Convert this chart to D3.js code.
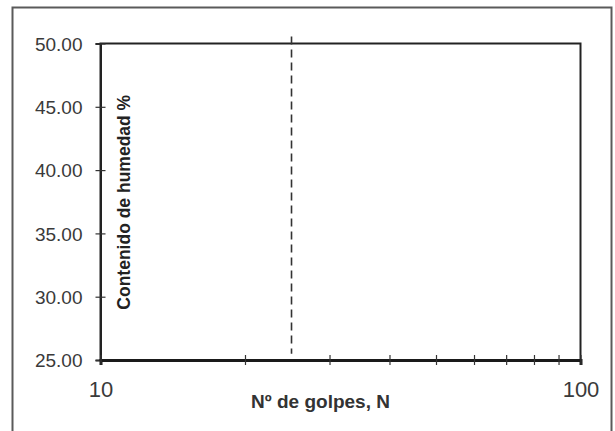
<!DOCTYPE html>
<html>
<head>
<meta charset="utf-8">
<script src="https://cdn.jsdelivr.net/npm/d3@7"></script>
<style>
  html, body { margin: 0; padding: 0; background: #fff; }
  svg { display: block; }
  text { font-family: "Liberation Sans", Arial, Helvetica, sans-serif; }
</style>
</head>
<body>
<svg id="chart" width="615" height="431"></svg>
<script>
// ---- data ----
const xDomain = [10, 100];
const yDomain = [25, 50];
const xMajorTicks = [10, 100];
const xMinorTicks = [20, 30, 40, 50, 60, 70, 80, 90];
const yTicks = [25, 30, 35, 40, 45, 50];
const refBlows = 25;              // vertical dashed reference line (N = 25)
const refSpan = [25.5, 50.55];    // vertical extent of the dashed line (in % units)
const xTitle = "Nº de golpes, N";
const yTitle = "Contenido de humedad %";

// ---- layout ----
const svg = d3.select("#chart");
const plot = { left: 100.5, right: 580.5, top: 43.5, bottom: 360 };

const x = d3.scaleLog().domain(xDomain).range([plot.left, plot.right]);
const y = d3.scaleLinear().domain(yDomain).range([plot.bottom, plot.top]);

// outer frame (extends past bottom of picture)
svg.append("rect")
  .attr("x", 12.5).attr("y", 7.5)
  .attr("width", 599).attr("height", 440)
  .attr("fill", "none").attr("stroke", "#5a5a5a").attr("stroke-width", 2);

// plot frame
svg.append("rect")
  .attr("x", plot.left).attr("y", plot.top)
  .attr("width", plot.right - plot.left).attr("height", plot.bottom - plot.top)
  .attr("fill", "#fff").attr("stroke", "#222").attr("stroke-width", 2);

// y axis
const yAxis = svg.append("g")
  .attr("transform", `translate(${plot.left},0)`)
  .call(d3.axisLeft(y).tickValues(yTicks).tickSize(5).tickFormat(d3.format(".2f")));
yAxis.select(".domain").attr("stroke", "#222").attr("stroke-width", 2);
yAxis.selectAll(".tick line").attr("x1", 5).attr("x2", -5).attr("stroke", "#333").attr("stroke-width", 1.2);
yAxis.selectAll(".tick text")
  .attr("x", -18).attr("dy", "0.36em")
  .attr("fill", "#3a3a3a")
  .style("font-size", "19px");

// x axis (major with labels, minor without)
const xAxis = svg.append("g")
  .attr("transform", `translate(0,${plot.bottom})`)
  .call(d3.axisBottom(x).tickValues(xMajorTicks.concat(xMinorTicks)).tickSize(5)
    .tickFormat(d => xMajorTicks.includes(d) ? d3.format("d")(d) : ""));
xAxis.select(".domain").attr("stroke", "#1a1a1a").attr("stroke-width", 3);
xAxis.selectAll(".tick line").attr("y1", -5).attr("y2", 5).attr("stroke", "#333").attr("stroke-width", 1.2);
xAxis.selectAll(".tick text")
  .attr("y", 37).attr("dy", 0)
  .attr("fill", "#3a3a3a")
  .style("font-size", "22px");

// dashed reference line
svg.append("line")
  .attr("x1", x(refBlows)).attr("x2", x(refBlows))
  .attr("y1", y(refSpan[1])).attr("y2", y(refSpan[0]))
  .attr("stroke", "#333").attr("stroke-width", 1.6)
  .attr("stroke-dasharray", "8,5");

// axis titles
svg.append("text")
  .attr("x", (plot.left + plot.right) / 2 - 20)
  .attr("y", 408)
  .attr("text-anchor", "middle")
  .attr("fill", "#333")
  .style("font-size", "19px").style("font-weight", "bold")
  .text(xTitle);

svg.append("text")
  .attr("transform", `translate(130,${(y(27.5) + y(47.5)) / 2 + 0.5}) rotate(-90)`)
  .attr("text-anchor", "middle")
  .attr("fill", "#222")
  .style("font-size", "17.5px").style("font-weight", "bold")
  .text(yTitle);
</script>
</body>
</html>
